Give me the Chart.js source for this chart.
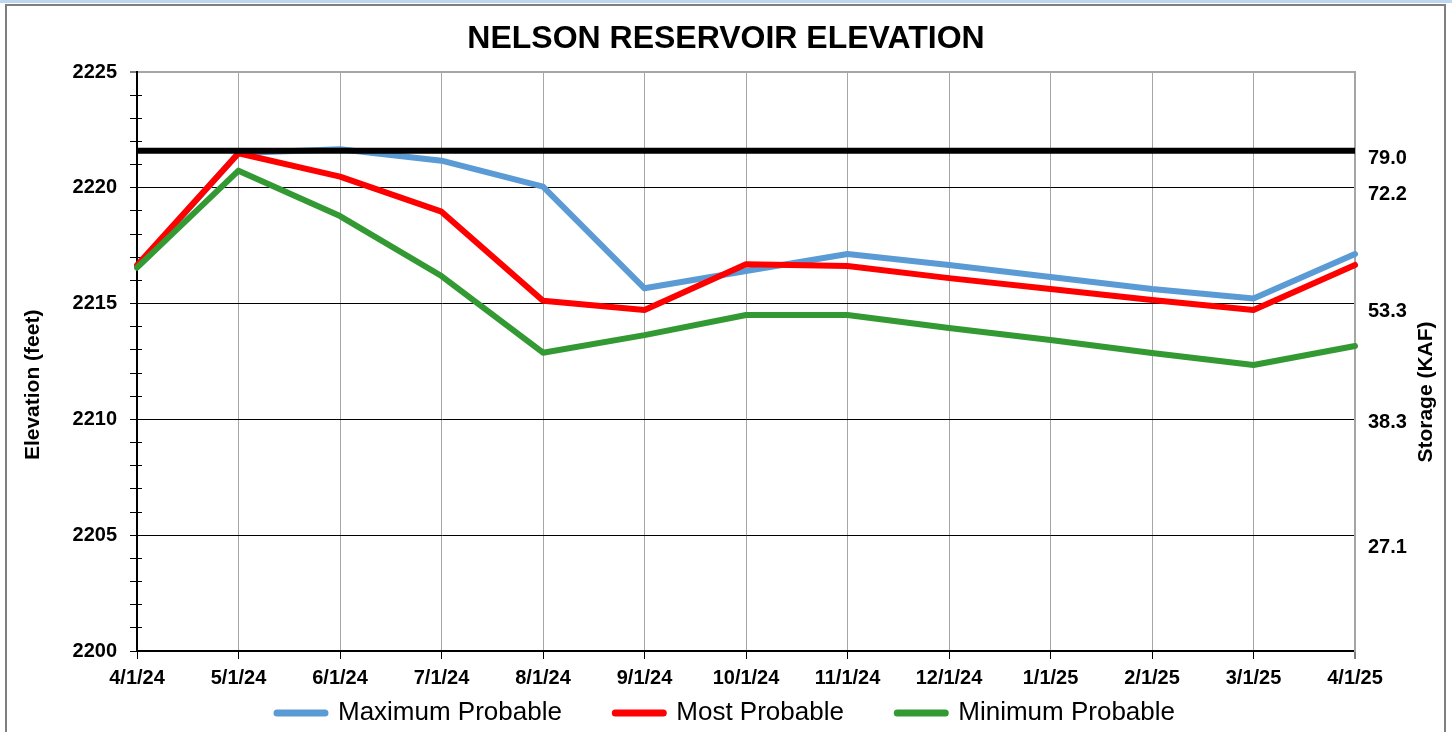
<!DOCTYPE html>
<html>
<head>
<meta charset="utf-8">
<script src="https://cdn.jsdelivr.net/npm/chart.js@4.4.1/dist/chart.umd.min.js"></script>
<style>
  html, body { margin: 0; padding: 0; background: #ffffff; }
  canvas { display: block; }
</style>
</head>
<body>
<canvas id="chart" width="1452" height="732"></canvas>
<script>
// ---- Data ----
const categories = ['4/1/24', '5/1/24', '6/1/24', '7/1/24', '8/1/24', '9/1/24', '10/1/24',
                    '11/1/24', '12/1/24', '1/1/25', '2/1/25', '3/1/25', '4/1/25'];
const maxProbable  = [2216.60, 2221.50, 2221.66, 2221.17, 2220.05, 2215.66, 2216.41, 2217.14, 2216.67, 2216.15, 2215.63, 2215.22, 2217.14];
const mostProbable = [2216.65, 2221.49, 2220.48, 2218.97, 2215.12, 2214.72, 2216.70, 2216.62, 2216.10, 2215.63, 2215.16, 2214.72, 2216.67];
const minProbable  = [2216.55, 2220.74, 2218.78, 2216.19, 2212.88, 2213.64, 2214.51, 2214.51, 2213.95, 2213.43, 2212.87, 2212.35, 2213.17];
const fullPool     = [2221.60, 2221.60, 2221.60, 2221.60, 2221.60, 2221.60, 2221.60, 2221.60, 2221.60, 2221.60, 2221.60, 2221.60, 2221.60];
const seriesNames  = ['Maximum Probable', 'Most Probable', 'Minimum Probable'];
const elevationTicks = [2200, 2201, 2202, 2203, 2204, 2205, 2206, 2207, 2208, 2209, 2210, 2211, 2212,
                        2213, 2214, 2215, 2216, 2217, 2218, 2219, 2220, 2221, 2222, 2223, 2224, 2225];
const storageTickElevations = [2221.26, 2219.69, 2214.66, 2209.87, 2204.49];
const storageTickLabels = ['79.0', '72.2', '53.3', '38.3', '27.1'];

const FONT = "'Liberation Sans', Arial, sans-serif";
Chart.defaults.font.family = FONT;
Chart.defaults.color = '#000';

const seriesColors = ['#5B9BD5', '#FF0000', '#339933'];

const framePlugin = {
  id: 'frame',
  beforeDraw(chart) {
    const ctx = chart.ctx;
    ctx.save();
    ctx.fillStyle = '#ffffff';
    ctx.fillRect(0, 0, chart.width, chart.height);
    ctx.fillStyle = '#BDD7EE';
    ctx.fillRect(0, 0, chart.width, 3);
    ctx.strokeStyle = '#7F7F7F';
    ctx.lineWidth = 2;
    ctx.strokeRect(6, 5, 1439, chart.height + 10);
    ctx.restore();
  }
};

const rightTitlePlugin = {
  id: 'rightTitle',
  afterDraw(chart) {
    const ctx = chart.ctx;
    ctx.save();
    ctx.translate(1426, 392);
    ctx.rotate(-Math.PI / 2);
    ctx.font = "bold 21px " + FONT;
    ctx.fillStyle = '#000';
    ctx.textAlign = 'center';
    ctx.textBaseline = 'middle';
    ctx.fillText('Storage (KAF)', 0, 0);
    ctx.restore();
  }
};

const legendPad = ['      ', '      ', ''];

new Chart(document.getElementById('chart'), {
  type: 'line',
  data: {
    labels: categories,
    datasets: [
      { label: seriesNames[0], data: maxProbable, borderColor: seriesColors[0], backgroundColor: seriesColors[0], order: 3 },
      { label: seriesNames[1], data: mostProbable, borderColor: seriesColors[1], backgroundColor: seriesColors[1], order: 2 },
      { label: seriesNames[2], data: minProbable, borderColor: seriesColors[2], backgroundColor: seriesColors[2], order: 1 },
      { label: 'Full Pool', data: fullPool, borderColor: '#000000', backgroundColor: '#000000', order: 0, borderWidth: 6, borderCapStyle: 'butt' }
    ]
  },
  options: {
    responsive: false,
    animation: false,
    devicePixelRatio: 1,
    layout: { padding: { top: 0, left: 0, right: 0, bottom: -4 } },
    elements: {
      line: { borderWidth: 6, tension: 0, borderJoinStyle: 'round', borderCapStyle: 'round', fill: false },
      point: { radius: 0, hoverRadius: 0 }
    },
    plugins: {
      tooltip: { enabled: false },
      title: {
        display: true,
        text: 'NELSON RESERVOIR ELEVATION',
        font: { size: 32, weight: 'bold' },
        color: '#000',
        padding: { top: 19.5, bottom: 14.1 }
      },
      legend: {
        position: 'bottom',
        labels: {
          usePointStyle: true,
          pointStyle: 'line',
          pointStyleWidth: 48,
          font: { size: 26 },
          color: '#000',
          padding: 10,
          generateLabels: (chart) => chart.data.datasets.slice(0, 3).map((ds, i) => ({
            text: ds.label + legendPad[i],
            fillStyle: ds.borderColor,
            strokeStyle: ds.borderColor,
            lineWidth: 7,
            lineCap: 'round',
            pointStyle: 'line',
            hidden: false,
            datasetIndex: i,
            fontColor: '#000'
          }))
        }
      }
    },
    scales: {
      x: {
        type: 'category',
        offset: false,
        afterFit: (s) => { s.height = 39; },
        ticks: { font: { size: 20, weight: 'bold' }, color: '#000', padding: 7, maxRotation: 0, autoSkip: false },
        grid: {
          color: '#A6A6A6',
          lineWidth: (c) => (c.index === categories.length - 1 ? 2 : 1),
          tickColor: '#000',
          tickLength: 8,
          tickWidth: 1
        },
        border: { color: '#000', width: 2 }
      },
      y: {
        type: 'linear',
        position: 'left',
        weight: 1,
        min: 2200,
        max: 2225,
        afterBuildTicks: (s) => { s.ticks = elevationTicks.map(v => ({ value: v })); },
        afterFit: (s) => { s.width = 137; },
        ticks: {
          autoSkip: false,
          callback: (v) => (v % 5 === 0 ? String(v) : ''),
          font: { size: 20, weight: 'bold' },
          color: '#000',
          padding: 13
        },
        grid: {
          color: (c) => (c.tick.value === 2225 ? '#A6A6A6' : (c.tick.value % 5 === 0 ? '#000' : 'rgba(0,0,0,0)')),
          lineWidth: (c) => (c.tick.value === 2225 ? 2 : 1),
          tickColor: '#000',
          tickLength: 7,
          tickWidth: 1
        },
        border: { color: '#000', width: 2 },
        title: {
          display: true,
          text: 'Elevation (feet)        ',
          font: { size: 21, weight: 'bold' },
          color: '#000',
          padding: { top: 21, bottom: 0 }
        }
      },
      yInner: {
        type: 'linear',
        position: 'left',
        weight: 0,
        min: 2200,
        max: 2225,
        afterBuildTicks: (s) => { s.ticks = elevationTicks.map(v => ({ value: v })); },
        afterFit: (s) => { s.width = 0; },
        ticks: { display: false, autoSkip: false },
        grid: {
          drawOnChartArea: false,
          color: 'rgba(0,0,0,0)',
          tickColor: (c) => (c.tick.value % 5 === 0 ? 'rgba(0,0,0,0)' : '#000'),
          tickLength: -5,
          tickWidth: 1
        },
        border: { display: false }
      },
      y2: {
        type: 'linear',
        position: 'right',
        min: 2200,
        max: 2225,
        afterBuildTicks: (s) => { s.ticks = storageTickElevations.map(v => ({ value: v })); },
        afterFit: (s) => { s.width = 97; },
        ticks: {
          autoSkip: false,
          callback: (v, i) => storageTickLabels[i],
          font: { size: 20, weight: 'bold' },
          color: '#000',
          padding: 13
        },
        grid: { drawOnChartArea: false, drawTicks: false },
        border: { color: '#A6A6A6', width: 2 }
      }
    }
  },
  plugins: [framePlugin, rightTitlePlugin]
});
</script>
</body>
</html>
